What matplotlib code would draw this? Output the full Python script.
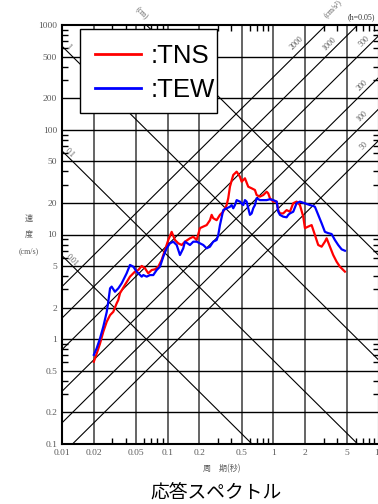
import numpy as np
import matplotlib
matplotlib.use('Agg')
import matplotlib.pyplot as plt
from matplotlib.ticker import FixedLocator, FixedFormatter, NullFormatter
from matplotlib.patches import Rectangle
import matplotlib.transforms as mtransforms

# ---------------- data ----------------
period_tns = [0.020, 0.0213, 0.0229, 0.0246, 0.0265, 0.0285, 0.0306, 0.0329, 0.0341, 0.0354,
              0.0394, 0.0440, 0.0490, 0.0527, 0.0568, 0.0610, 0.0655, 0.0706, 0.0758, 0.0815,
              0.0877, 0.0943, 0.1013, 0.1091, 0.1173, 0.1260, 0.1357, 0.1458, 0.1626, 0.1747,
              0.1881, 0.2021, 0.2172, 0.2339, 0.2513, 0.2608, 0.2700, 0.2908, 0.3125, 0.3357,
              0.3615, 0.3743, 0.3885, 0.4174, 0.4497, 0.4831, 0.5013, 0.5387, 0.5788, 0.6233,
              0.6697, 0.6950, 0.7468, 0.8023, 0.8644, 0.8950, 0.9287, 0.998, 1.075, 1.113,
              1.155, 1.240, 1.336, 1.436, 1.543, 1.661, 1.785, 1.919, 1.991, 2.139,
              2.303, 2.475, 2.659, 2.864, 3.077, 3.193, 3.432, 3.687, 3.971, 4.267, 4.759]
vel_tns = [0.61, 0.73, 0.91, 1.18, 1.47, 1.70, 1.83, 2.20, 2.37, 2.75,
           3.30, 3.96, 4.42, 4.58, 5.01, 4.76, 4.26, 4.58, 4.65, 4.93,
           5.71, 7.11, 8.86, 10.6, 8.86, 8.24, 7.94, 8.54, 9.20, 9.53,
           8.86, 11.5, 11.9, 12.3, 13.7, 15.4, 14.3, 13.7, 15.4, 16.5,
           19.1, 22.2, 28.6, 37.0, 39.8, 35.6, 31.9, 34.4, 28.6, 27.6,
           26.6, 23.8, 23.0, 23.8, 25.6, 24.7, 22.2, 20.6, 20.6, 17.1,
           15.9, 15.9, 17.1, 16.5, 19.9, 20.6, 19.1, 14.8, 11.5, 11.9,
           12.3, 9.89, 7.94, 7.65, 8.54, 9.20, 7.65, 6.37, 5.50, 4.93, 4.42]

period_tew = [0.020, 0.0213, 0.0229, 0.0246, 0.0265, 0.0274, 0.0285, 0.0295, 0.0317, 0.0341,
              0.0367, 0.0409, 0.0440, 0.0473, 0.0509, 0.0568, 0.0588, 0.0633, 0.0680, 0.0731,
              0.0787, 0.0846, 0.0909, 0.0978, 0.1051, 0.1130, 0.1217, 0.1307, 0.1404, 0.1458,
              0.1626, 0.1747, 0.1881, 0.2021, 0.2172, 0.2339, 0.2513, 0.2700, 0.2908, 0.3011,
              0.3125, 0.3357, 0.3615, 0.3885, 0.4031, 0.4174, 0.4332, 0.4497, 0.4831, 0.5191,
              0.5387, 0.5590, 0.5788, 0.6006, 0.6233, 0.6452, 0.6697, 0.6950, 0.7468, 0.8023,
              0.8644, 0.9287, 0.998, 1.075, 1.113, 1.155, 1.240, 1.336, 1.384, 1.436,
              1.543, 1.661, 1.785, 1.919, 2.065, 2.220, 2.385, 2.475, 2.659, 2.864,
              3.077, 3.307, 3.561, 3.826, 4.111, 4.429, 4.759]
vel_tew = [0.71, 0.82, 1.02, 1.32, 1.82, 2.27, 3.06, 3.18, 2.84, 3.06,
           3.42, 4.26, 5.12, 4.93, 4.42, 3.96, 4.10, 3.96, 4.10, 4.10,
           4.58, 4.93, 6.14, 7.38, 8.24, 8.54, 7.94, 6.37, 7.38, 8.54,
           7.94, 8.54, 8.54, 8.24, 7.94, 7.38, 7.65, 8.54, 8.86, 9.89,
           12.3, 17.1, 17.8, 18.4, 19.1, 17.8, 19.1, 21.3, 20.6, 19.1,
           21.3, 20.6, 17.8, 15.4, 15.9, 17.8, 19.1, 22.2, 21.3, 21.3,
           21.3, 21.7, 21.3, 20.6, 16.5, 15.4, 14.8, 14.6, 15.4, 15.9,
           16.5, 19.9, 20.6, 20.1, 19.6, 19.1, 18.7, 18.4, 15.4, 12.8,
           10.6, 10.3, 10.1, 8.86, 7.94, 7.22, 7.00]

x_ticks = [0.01, 0.02, 0.05, 0.1, 0.2, 0.5, 1, 2, 5, 10]
x_labels = ['0.01', '0.02', '0.05', '0.1', '0.2', '0.5', '1', '2', '5', '10']
y_ticks = [0.1, 0.2, 0.5, 1, 2, 5, 10, 20, 50, 100, 200, 500, 1000]
y_labels = ['0.1', '0.2', '0.5', '1', '2', '5', '10', '20', '50', '100', '200', '500', '1000']

disp_values = [0.01, 0.1, 1, 10]              # cm
disp_label_text = ['0.01', '0.1', '1']
disp_label_T = [0.0117, 0.01117, 0.01079]
acc_values = [50, 100, 200, 500, 1000, 2000]   # cm/s2
acc_label_text = ['50', '100', '200', '500', '1000', '2000']
acc_label_T = [7.99, 7.58, 7.6, 7.97, 3.72, 1.86]

series_names = [':TNS', ':TEW']
series_colors = ['#ff0000', '#0000ff']

# ---------------- figure ----------------
W, H = 378, 504
fig = plt.figure(figsize=(W / 100, H / 100), dpi=100)
fig.patch.set_facecolor('white')
L, R, T_, B = 62, 379, 25, 444
ax = fig.add_axes([L / W, 1 - B / H, (R - L) / W, (B - T_) / H])
ax.set_xscale('log')
ax.set_yscale('log')
ax.set_xlim(0.01, 10)
ax.set_ylim(0.1, 1000)

gray = '#5a5a5a'
serif = 'Liberation Serif'

# grid lines at major positions
for xv in x_ticks[1:-1]:
    ax.axvline(xv, color='#3a3a3a', lw=1.1, zorder=1)
for yv in y_ticks[1:-1]:
    ax.axhline(yv, color='black', lw=1.0, zorder=1)

# tripartite diagonal lines
Tline = np.array([0.005, 20.0])
for D in disp_values:
    ax.plot(Tline, 2 * np.pi * D / Tline, color='black', lw=0.8, zorder=1)
for A in acc_values:
    ax.plot(Tline, A * Tline / (2 * np.pi), color='black', lw=0.8, zorder=1)

# diagonal labels
for txt, tl, D in zip(disp_label_text, disp_label_T, disp_values[:3]):
    tr = mtransforms.offset_copy(ax.transData, fig=fig, x=2.8, y=2.8, units='dots')
    ax.text(tl, 2 * np.pi * D / tl, txt, transform=tr, rotation=-45, ha='center', va='center',
            fontsize=5.8, family=serif, color=gray, zorder=3)
for txt, tl, A in zip(acc_label_text, acc_label_T, acc_values):
    d = 5.3 if A == 2000 else 4.5
    tr = mtransforms.offset_copy(ax.transData, fig=fig, x=-d, y=d, units='dots')
    ax.text(tl, A * tl / (2 * np.pi), txt, transform=tr, rotation=45, ha='center', va='center',
            fontsize=5.8, family=serif, color=gray, zorder=3)

# spectra
ax.plot(period_tns, vel_tns, color=series_colors[0], lw=1.6, zorder=4, label=series_names[0])
ax.plot(period_tew, vel_tew, color=series_colors[1], lw=1.6, zorder=4, label=series_names[1])

# ticks
ax.xaxis.set_major_locator(FixedLocator(x_ticks))
ax.xaxis.set_major_formatter(FixedFormatter(x_labels))
ax.yaxis.set_major_locator(FixedLocator(y_ticks))
ax.yaxis.set_major_formatter(FixedFormatter(y_labels))
minors_x = [m * 10.0 ** e for e in range(-2, 1) for m in (3, 4, 6, 7, 8, 9)]
minors_y = [m * 10.0 ** e for e in range(-1, 3) for m in (3, 4, 6, 7, 8, 9)]
ax.xaxis.set_minor_locator(FixedLocator(minors_x))
ax.yaxis.set_minor_locator(FixedLocator(minors_y))
ax.xaxis.set_minor_formatter(NullFormatter())
ax.yaxis.set_minor_formatter(NullFormatter())
ax.tick_params(which='major', length=0, labelsize=6.8, labelcolor=gray, pad=3.5)
ax.tick_params(which='minor', direction='in', length=4.2, width=1.0, color='black',
               top=True, right=True)
for lab in ax.get_xticklabels() + ax.get_yticklabels():
    lab.set_family(serif)
for sp in ax.spines.values():
    sp.set_linewidth(1.5)
    sp.set_color('black')
    sp.set_zorder(5)

# legend frame (white box) drawn behind legend entries
frame = Rectangle((80 / W, 1 - 113 / H), (217 - 80) / W, (113 - 29) / H,
                  transform=fig.transFigure, facecolor='white', edgecolor='black',
                  lw=1.0, zorder=6)
ax.add_artist(frame)
frame.set_clip_on(False)

leg = ax.legend(loc='upper left', bbox_to_anchor=(18 / (R - L), 1 - 4 / (B - T_)),
                borderaxespad=0, handlelength=1.78, handletextpad=0.36,
                labelspacing=0.38, borderpad=0.6, frameon=False,
                prop={'family': 'Liberation Sans', 'size': 18.5})
for h in leg.get_lines():
    h.set_linewidth(2.0)
leg.set_zorder(7)

# annotations outside axes
def ftext(x, y, s, **kw):
    fig.text(x / W, 1 - y / H, s, **kw)

cjk = ['Noto Sans CJK JP', 'DejaVu Sans']
ftext(141, 13, '(cm)', rotation=-45, ha='center', va='center', fontsize=5.5,
      family=serif, color=gray)
ftext(333, 9, '(cm/s²)', rotation=45, ha='center', va='center', fontsize=5.5,
      family=serif, color=gray)
ftext(361, 17, '(h=0.05)', ha='center', va='center', fontsize=5.8, family=serif, color='#333333')
ftext(29, 218, '速', ha='center', va='center', fontsize=5.8, family=cjk, color=gray)
ftext(29, 234, '度', ha='center', va='center', fontsize=5.8, family=cjk, color=gray)
ftext(29, 251, '(cm/s)', ha='center', va='center', fontsize=5.8, family=serif, color=gray)
ftext(222, 469, '周　期(秒)', ha='center', va='center', fontsize=5.8, family=cjk, color=gray)
ftext(216, 492, '応答スペクトル', ha='center', va='center', fontsize=13.5, family=cjk, color='black')

fig.savefig('out.png', dpi=100, facecolor='white')
